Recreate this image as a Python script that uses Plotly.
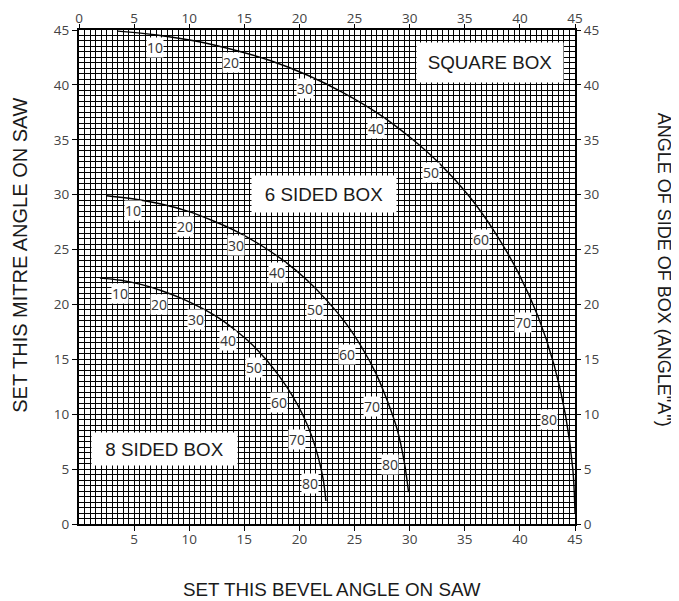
import plotly.graph_objects as go

# angle of side of box ("A"), degrees
side_angle = [5, 10, 15, 20, 25, 30, 35, 40, 45, 50, 55, 60, 65, 70, 75, 80, 85]
side_angle_sq = side_angle + [89]

# square box: bevel / mitre
square_bevel = [3.5, 7.05, 10.55, 14.0, 17.4, 20.7, 23.95, 27.05, 30.0, 32.8, 35.4,
                37.75, 39.85, 41.65, 43.1, 44.15, 44.8, 45.0]
square_mitre = [44.9, 44.55, 44.0, 43.2, 42.2, 40.9, 39.3, 37.45, 35.25, 32.75, 29.85,
                26.55, 22.9, 18.9, 14.5, 9.85, 5.0, 1.0]

# 6 sided box
hex_bevel = [2.5, 5.0, 7.45, 9.85, 12.2, 14.5, 16.65, 18.75, 20.7, 22.5, 24.2,
             25.65, 26.95, 28.0, 28.9, 29.5, 29.9]
hex_mitre = [29.9, 29.6, 29.15, 28.5, 27.6, 26.55, 25.3, 23.85, 22.2, 20.35, 18.3,
             16.1, 13.7, 11.15, 8.5, 5.7, 2.9]

# 8 sided box
oct_bevel = [1.9, 3.8, 5.7, 7.5, 9.3, 11.05, 12.7, 14.25, 15.7, 17.05, 18.25,
             19.35, 20.3, 21.1, 21.7, 22.15, 22.4]
oct_mitre = [22.4, 22.2, 21.8, 21.25, 20.55, 19.7, 18.75, 17.6, 16.35, 14.9, 13.35,
             11.7, 9.95, 8.05, 6.1, 4.1, 2.1]

# numbers printed along each curve
label_angle = [10, 20, 30, 40, 50, 60, 70, 80]
square_lab_x = [6.9, 13.8, 20.5, 26.9, 31.9, 36.5, 40.3, 42.6]
square_lab_y = [43.4, 42.0, 39.7, 36.0, 32.0, 25.9, 18.4, 9.5]
hex_lab_x = [4.9, 9.6, 14.2, 18.0, 21.4, 24.3, 26.6, 28.2]
hex_lab_y = [28.6, 27.1, 25.4, 22.9, 19.5, 15.4, 10.7, 5.4]
oct_lab_x = [3.7, 7.3, 10.6, 13.5, 15.9, 18.1, 19.8, 21.0]
oct_lab_y = [21.0, 20.0, 18.6, 16.7, 14.3, 11.1, 7.7, 3.7]

box_names = ["SQUARE BOX", "6 SIDED BOX", "8 SIDED BOX"]
box_x = [37.3, 22.2, 7.8]
box_y = [42.05, 30.05, 6.8]
box_w = [146, 144, 145]
box_h = [39, 36, 32]

tick_font = dict(family="Open Sans", size=13.5, color="#444444")
title_font = dict(family="Liberation Sans", size=18.8, color="#1a1a1a")

fig = go.Figure()

for bev, mit in [(square_bevel, square_mitre), (hex_bevel, hex_mitre), (oct_bevel, oct_mitre)]:
    fig.add_trace(go.Scatter(x=bev, y=mit, mode="lines", line=dict(color="black", width=1.4, shape="spline"),
                             showlegend=False, hoverinfo="skip"))

# empty trace so the top / right axes get drawn
fig.add_trace(go.Scatter(x=[None], y=[None], xaxis="x2", yaxis="y2", showlegend=False, hoverinfo="skip"))

annos = []
for lx, ly in [(square_lab_x, square_lab_y), (hex_lab_x, hex_lab_y), (oct_lab_x, oct_lab_y)]:
    for a, x, y in zip(label_angle, lx, ly):
        annos.append(dict(x=x, y=y, xref="x", yref="y", text=str(a), showarrow=False,
                          font=dict(family="Open Sans", size=14, color="#333333"),
                          bgcolor="white", borderpad=0))

for name, x, y, w, h in zip(box_names, box_x, box_y, box_w, box_h):
    annos.append(dict(x=x, y=y, xref="x", yref="y", text=name, showarrow=False,
                      font=title_font, bgcolor="white", borderpad=0, width=w, height=h))

annos.append(dict(x=0.51, y=-0.132, xref="paper", yref="paper", text="SET THIS BEVEL ANGLE ON SAW",
                  showarrow=False, font=title_font, xanchor="center", yanchor="middle"))
annos.append(dict(x=-0.119, y=0.545, xref="paper", yref="paper", text="SET THIS MITRE ANGLE ON SAW",
                  showarrow=False, font=dict(title_font, size=20), textangle=-90,
                  xanchor="center", yanchor="middle"))
annos.append(dict(x=1.181, y=0.515, xref="paper", yref="paper", text='ANGLE OF SIDE OF BOX (ANGLE"A")',
                  showarrow=False, font=dict(title_font, size=18), textangle=90,
                  xanchor="center", yanchor="middle"))

axis_common = dict(range=[0, 45], ticks="outside", ticklen=5, tickcolor="black", tickwidth=1,
                   tickfont=tick_font, zeroline=False, automargin=False)

fig.update_layout(
    width=679, height=601,
    margin=dict(l=71, r=112, t=22, b=85),
    paper_bgcolor="white", plot_bgcolor="white",
    xaxis=dict(**axis_common, tickvals=[5, 10, 15, 20, 25, 30, 35, 40, 45], ticklabelstandoff=-3,
               showline=True, linecolor="black", linewidth=2, mirror=True,
               showgrid=True, gridcolor="black", gridwidth=1.4,
               minor=dict(dtick=0.5, showgrid=True, gridcolor="black", gridwidth=1.1)),
    yaxis=dict(**axis_common, dtick=5, tick0=0,
               showline=True, linecolor="black", linewidth=2, mirror=True,
               showgrid=True, gridcolor="black", gridwidth=1.4,
               minor=dict(dtick=0.5, showgrid=True, gridcolor="black", gridwidth=1.1)),
    xaxis2=dict(**axis_common, dtick=5, tick0=0, overlaying="x", side="top", anchor="y2",
                ticklabelstandoff=-4, showgrid=False, showline=False),
    yaxis2=dict(**axis_common, dtick=5, tick0=0, overlaying="y", side="right", anchor="x2",
                showgrid=False, showline=False),
    annotations=annos,
)

fig.write_html("out.html")
